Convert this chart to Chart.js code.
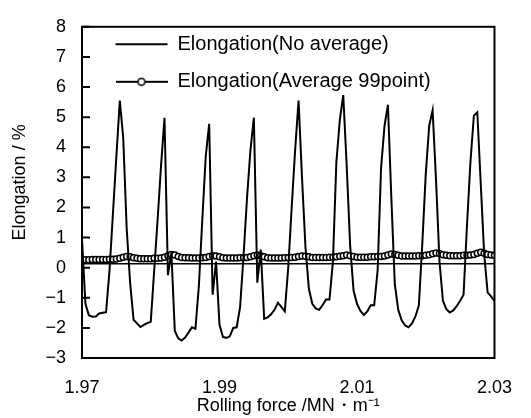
<!DOCTYPE html>
<html>
<head>
<meta charset="utf-8">
<title>Elongation vs rolling force</title>
<script src="https://cdn.jsdelivr.net/npm/chart.js@4.4.1/dist/chart.umd.min.js"></script>
<style>
  html, body { margin: 0; padding: 0; background: #fff; }
  canvas { display: block; }
</style>
</head>
<body>
<canvas id="chart" width="531" height="418"></canvas>
<script>
// rolling force samples (MN/m)
const force = [
  1.9700, 1.9705, 1.9710, 1.9715, 1.9720, 1.9725, 1.9730, 1.9735, 1.9740, 1.9745,
  1.9750, 1.9755, 1.9760, 1.9765, 1.9770, 1.9775, 1.9780, 1.9785, 1.9790, 1.9795,
  1.9800, 1.9805, 1.9810, 1.9815, 1.9820, 1.9825, 1.9830, 1.9835, 1.9840, 1.9845,
  1.9850, 1.9855, 1.9860, 1.9865, 1.9870, 1.9875, 1.9880, 1.9885, 1.9890, 1.9895,
  1.9900, 1.9905, 1.9910, 1.9915, 1.9920, 1.9925, 1.9930, 1.9935, 1.9940, 1.9945,
  1.9950, 1.9955, 1.9960, 1.9965, 1.9970, 1.9975, 1.9980, 1.9985, 1.9990, 1.9995,
  2.0000, 2.0005, 2.0010, 2.0015, 2.0020, 2.0025, 2.0030, 2.0035, 2.0040, 2.0045,
  2.0050, 2.0055, 2.0060, 2.0065, 2.0070, 2.0075, 2.0080, 2.0085, 2.0090, 2.0095,
  2.0100, 2.0105, 2.0110, 2.0115, 2.0120, 2.0125, 2.0130, 2.0135, 2.0140, 2.0145,
  2.0150, 2.0155, 2.0160, 2.0165, 2.0170, 2.0175, 2.0180, 2.0185, 2.0190, 2.0195,
  2.0200, 2.0205, 2.0210, 2.0215, 2.0220, 2.0225, 2.0230, 2.0235, 2.0240, 2.0245,
  2.0250, 2.0255, 2.0260, 2.0265, 2.0270, 2.0275, 2.0280, 2.0285, 2.0290, 2.0295,
  2.0300
];

// elongation, raw signal (%)
const elongRaw = [
  0.95, -1.2, -1.58, -1.63, -1.62, -1.52, -1.5, -1.48, -0.1, 1.8,
  3.7, 5.55, 4.3, 1.3, -0.5, -1.73, -1.85, -1.97, -1.9, -1.84,
  -1.8, -0.1, 1.6, 3.4, 4.98, -0.25, 0.5, -2.1, -2.35, -2.42,
  -2.32, -2.15, -1.98, -2.03, -0.6, 1.6, 3.7, 4.78, -0.9, 0.2,
  -1.9, -2.3, -2.33, -2.28, -2.0, -1.98, -1.3, 0.4, 2.3, 3.9,
  4.98, -0.5, 0.6, -1.7, -1.65, -1.55, -1.4, -1.17, -1.3, -1.45,
  0.0, 2.0, 3.9, 5.55, 3.0, 0.7, -0.7, -1.2, -1.35, -1.4,
  -1.24, -1.06, -1.06, 0.2, 3.5, 4.9, 5.73, 3.4, 0.75, -0.76,
  -1.2, -1.44, -1.57, -1.45, -1.25, -1.25, -0.1, 3.3, 4.7, 5.41,
  2.3, -0.55, -1.4, -1.75, -1.92, -1.98, -1.85, -1.62, -1.25, 0.8,
  3.1, 4.71, 5.23, 2.9, 0.2, -1.1, -1.38, -1.49, -1.42, -1.28,
  -1.1, -0.9, 1.4, 3.5, 5.05, 5.16, 2.8, 0.45, -0.82, -0.95,
  -1.1
];

// elongation, 99 point moving average (%)
const elongAvg = [
  0.26, 0.26, 0.26, 0.27, 0.27, 0.27, 0.27, 0.27, 0.28, 0.28, 0.29,
  0.31, 0.35, 0.37, 0.36, 0.33, 0.31,
  0.30, 0.30, 0.30, 0.30, 0.31, 0.31,
  0.32, 0.35, 0.40, 0.44, 0.42, 0.37, 0.34,
  0.33, 0.33, 0.32, 0.32, 0.32, 0.33,
  0.34, 0.37, 0.40, 0.39, 0.36, 0.33,
  0.32, 0.32, 0.32, 0.32, 0.33, 0.33, 0.34,
  0.36, 0.40, 0.42, 0.40, 0.36, 0.33,
  0.32, 0.32, 0.32, 0.32, 0.33, 0.33, 0.34,
  0.35, 0.37, 0.39, 0.38, 0.36,
  0.34, 0.34, 0.34, 0.34, 0.34, 0.35, 0.35, 0.36,
  0.38, 0.40, 0.42, 0.40, 0.37,
  0.35, 0.35, 0.35, 0.35, 0.36, 0.36, 0.37, 0.37,
  0.39, 0.42, 0.45, 0.44, 0.41,
  0.39, 0.39, 0.39, 0.39, 0.39, 0.40, 0.40, 0.41,
  0.43, 0.46, 0.49, 0.47, 0.43,
  0.41, 0.40, 0.40, 0.40, 0.40, 0.41, 0.41, 0.42,
  0.44, 0.48, 0.51, 0.48, 0.44, 0.42, 0.41
];

// flat reference line across the plot
const baseX = [1.97, 2.03];
const baseY = [0.13, 0.13];

const xTicks = [1.97, 1.99, 2.01, 2.03];
const yMin = -3;
const yMax = 8;

const FONT = "'Liberation Sans', Arial, sans-serif";
Chart.defaults.font.family = FONT;
Chart.defaults.font.size = 18;
Chart.defaults.color = '#000';

function toPoints(xs, ys) {
  return xs.map((x, i) => ({ x: x, y: ys[i] }));
}

// legend marker: line with an open circle in the middle
function makeMarker() {
  const c = document.createElement('canvas');
  c.width = 52;
  c.height = 12;
  const g = c.getContext('2d');
  g.strokeStyle = '#000';
  g.lineWidth = 2;
  g.beginPath();
  g.moveTo(0, 6);
  g.lineTo(52, 6);
  g.stroke();
  g.beginPath();
  g.arc(26, 6, 3.5, 0, Math.PI * 2);
  g.fillStyle = '#fff';
  g.fill();
  g.lineWidth = 1.6;
  g.stroke();
  return c;
}
const marker = makeMarker();

// box around the plot and the short inward ticks on the left axis
const framePlugin = {
  id: 'frame',
  afterDatasetsDraw(chart) {
    const { ctx, chartArea: a } = chart;
    const y = chart.scales.y;
    ctx.save();
    ctx.strokeStyle = '#000';
    ctx.lineWidth = 2;
    ctx.strokeRect(a.left, a.top, a.right - a.left, a.bottom - a.top);
    ctx.beginPath();
    y.ticks.forEach(t => {
      const py = y.getPixelForValue(t.value);
      ctx.moveTo(a.left, py);
      ctx.lineTo(a.left + 8, py);
    });
    ctx.stroke();
    ctx.restore();
  }
};

// put the legend box where it sits in the original, inside the plot
const legendPlace = {
  id: 'legendPlace',
  afterLayout(chart) {
    const a = chart.chartArea;
    chart.legend.left = a.left + 16;
    chart.legend.top = a.top - 10;
  }
};

new Chart(document.getElementById('chart'), {
  type: 'line',
  data: {
    datasets: [
      {
        label: 'Elongation(No average)',
        data: toPoints(force, elongRaw),
        borderColor: '#000',
        borderWidth: 2,
        pointRadius: 0,
        tension: 0,
        fill: false
      },
      {
        label: 'Elongation(Average 99point)',
        data: toPoints(force, elongAvg),
        borderColor: '#000',
        borderWidth: 1.5,
        pointRadius: 3,
        pointStyle: 'circle',
        pointBackgroundColor: '#fff',
        pointBorderColor: '#000',
        pointBorderWidth: 1.5,
        tension: 0,
        fill: false
      },
      {
        label: 'base',
        data: toPoints(baseX, baseY),
        borderColor: '#000',
        borderWidth: 1.5,
        pointRadius: 0,
        fill: false
      }
    ]
  },
  options: {
    responsive: false,
    animation: false,
    devicePixelRatio: 1,
    layout: { padding: { top: 18, right: 22, left: 0, bottom: 0 } },
    plugins: {
      tooltip: { enabled: false },
      legend: {
        position: 'chartArea',
        align: 'start',
        labels: {
          usePointStyle: true,
          pointStyleWidth: 52,
          padding: 17.5,
          color: '#000',
          font: { size: 20 },
          filter: item => item.datasetIndex < 2,
          generateLabels: chart => {
            const items = Chart.defaults.plugins.legend.labels.generateLabels(chart);
            return items.map(item => {
              item.pointStyle = item.datasetIndex === 1 ? marker : 'line';
              item.lineWidth = 2;
              item.strokeStyle = '#000';
              item.fillStyle = '#fff';
              return item;
            });
          }
        }
      }
    },
    scales: {
      x: {
        type: 'linear',
        min: 1.97,
        max: 2.03,
        afterBuildTicks: scale => {
          scale.ticks = xTicks.map(v => ({ value: v }));
        },
        afterFit: scale => { scale.height = 60; },
        grid: { display: false, drawTicks: false },
        border: { display: false },
        ticks: {
          padding: 19,
          maxRotation: 0,
          font: { size: 18 },
          callback: v => Number(v).toFixed(2)
        },
        title: {
          display: true,
          text: 'Rolling force /MN・m⁻¹',
          font: { size: 18 },
          padding: { top: 0, bottom: 1 }
        }
      },
      y: {
        min: yMin,
        max: yMax,
        afterFit: scale => { scale.width = 82; },
        grid: { display: false, drawTicks: false },
        border: { display: false },
        ticks: {
          stepSize: 1,
          padding: 16,
          font: { size: 18 },
          callback: v => (v < 0 ? '\u2212' + Math.abs(v) : String(v))
        },
        title: {
          display: true,
          // leading spaces lift the text a little, as in the original
          text: '    Elongation / %',
          font: { size: 18 },
          padding: { top: 9, bottom: 0 }
        }
      }
    }
  },
  plugins: [framePlugin, legendPlace]
});
</script>
</body>
</html>
